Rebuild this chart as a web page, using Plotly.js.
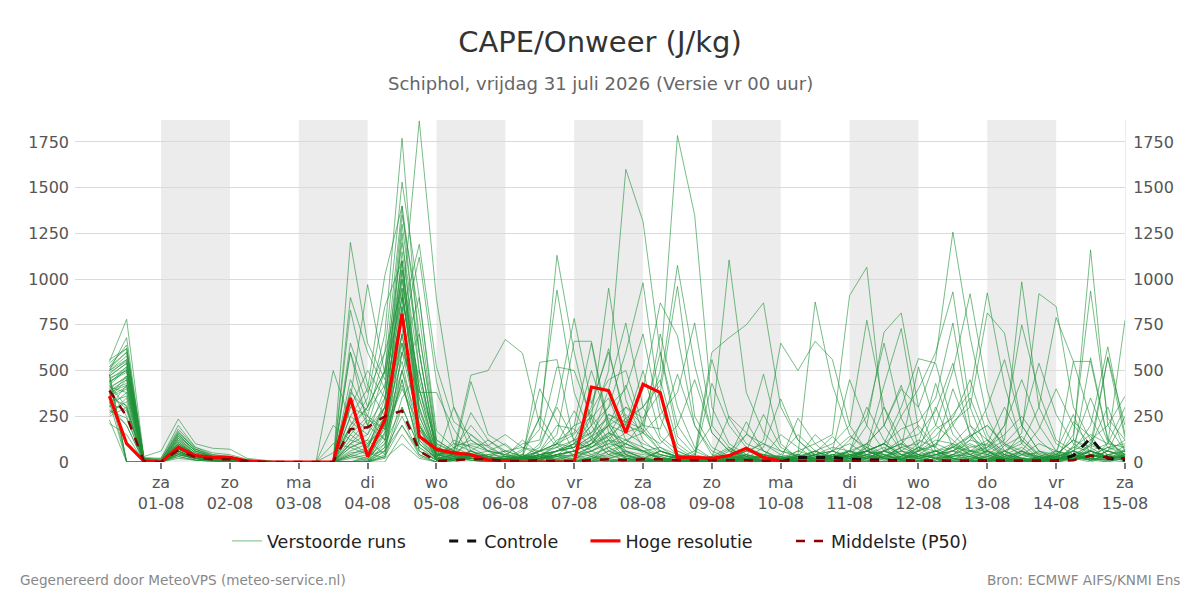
<!DOCTYPE html>
<html>
<head>
<meta charset="utf-8">
<script src="https://cdn.plot.ly/plotly-3.0.1.min.js"></script>
<style>html,body{margin:0;padding:0;background:#fff;}#chart{width:1200px;height:600px;}</style>
</head>
<body>
<div id="chart"></div>
<script>
// ---- DATA ----
const runStart = '2026-07-31 06:00';      // first forecast step
const stepHours = 6;
const nSteps = 60;

const dayTicks = ['2026-08-01','2026-08-02','2026-08-03','2026-08-04','2026-08-05','2026-08-06','2026-08-07','2026-08-08','2026-08-09','2026-08-10','2026-08-11','2026-08-12','2026-08-13','2026-08-14','2026-08-15'];
const dayNames = ['za','zo','ma','di','wo','do','vr','za','zo','ma','di','wo','do','vr','za'];
const dayLabels = ['01-08','02-08','03-08','04-08','05-08','06-08','07-08','08-08','09-08','10-08','11-08','12-08','13-08','14-08','15-08'];
const shadedDays = ['2026-08-01','2026-08-03','2026-08-05','2026-08-07','2026-08-09','2026-08-11','2026-08-13'];

const seriesNames = ['Verstoorde runs','Controle','Hoge resolutie','Middelste (P50)'];

const hiRes = [360,100,5, 0,80,35,25, 25,5,0,0, 0,0,0,350, 30,230,810,140, 70,50,40,10, 3,0,0,0, 0,410,390,160, 425,380,25,25, 20,35,75,25, 5,
  null,null,null, null,null,null,null, null,null,null,null, null,null,null,null, null,null,null,null, null];

const control = [null,null,null, null,null,null,null, null,null,null,null, null,null,null,null, null,null,null,null, null,null,null,null,
  null,null,null,null, null,null,null,null, null,null,null,null, null,null,null,null,
  0,25,25,25, 15,12,8,5, 5,5,5,5, 5,5,5,5, 5,35,130,20, 10];

const p50 = [390,250,5, 0,65,25,15, 15,5,0,0, 0,0,0,180, 190,250,280,60, 5,10,15,15, 5,5,10,5, 5,10,15,10, 15,15,10,10, 10,10,10,5, 5,5,5,5, 5,5,5,5, 5,5,5,5, 10,5,5,5, 5,10,35,25, 20];

const members = [
 [480,560,10, 0,120,40,20, 15,5,0,0, 0,0,0,150, 80,300,1250,300, 20,300,60,10, 0,0,20,40, 10,0,60,30, 10,0,40,0, 0,30,220,60, 10,0,20,0, 0,40,80,10, 0,20,60,10, 0,30,10,0, 20,550,550,120, 40],
 [420,300,5, 0,80,30,15, 10,0,0,0, 0,0,0,80, 120,40,600,380, 380,180,40,10, 20,10,5,0, 0,30,10,0, 0,20,10,0, 10,60,150,480, 100,20,0,10, 0,20,0,0, 30,60,20,0, 10,0,40,100, 60,260,40,10, 0],
 [350,450,0, 0,150,60,30, 20,5,0,0, 0,0,0,40, 20,160,400,200, 10,120,80,30, 10,0,0,10, 0,20,40,100, 60,10,0,0, 0,10,60,260, 80,30,10,0, 20,0,60,40, 0,0,20,0, 0,60,120,30, 0,220,140,30, 90],
 [520,640,20, 10,170,70,30, 25,10,5,0, 0,0,0,30, 10,250,850,120, 30,60,475,500, 670,595,200,80, 40,10,0,20, 10,40,20,0, 30,80,10,0, 20,0,40,60, 30,10,0,0, 20,40,80,150, 60,10,0,20, 40,120,1160,200, 60],
 [300,420,5, 0,90,30,20, 10,0,0,0, 0,0,0,0, 0,80,450,60, 10,40,440,150, 90,20,30,10, 0,0,120,60, 20,0,0,10, 0,20,40,120, 650,500,660,560, 200,60,20,0, 10,30,0,0, 20,10,50,30, 0,80,60,20, 30],
 [450,520,0, 0,60,20,10, 5,0,0,0, 0,0,0,250, 180,300,700,150, 40,30,270,120, 50,10,60,30, 0,100,200,40, 0,20,10,0, 0,10,20,80, 345,120,30,10, 0,60,100,20, 0,0,10,30, 0,90,140,40, 20,150,935,240, 120],
 [380,0,0, 0,40,20,10, 5,0,0,0, 0,0,0,0, 0,30,200,40, 0,20,150,60, 10,0,10,0, 0,30,80,20, 10,0,30,0, 0,0,10,30, 150,80,20,0, 10,0,30,80, 40,0,0,20, 60,0,10,0, 30,40,570,130, 20],
 [500,680,15, 20,200,80,40, 30,10,5,0, 0,0,0,300, 250,120,500,200, 60,70,200,90, 30,20,40,10, 0,10,30,60, 40,30,0,0, 20,70,30,0, 10,240,100,20, 0,30,20,0, 0,10,40,90, 50,20,0,10, 0,90,350,110, 40],
 [260,350,5, 0,60,20,10, 10,0,0,0, 0,0,0,0, 0,200,850,100, 20,10,60,120, 60,30,10,0, 0,0,20,50, 30,0,10,20, 0,0,0,10, 40,150,60,10, 0,10,30,20, 10,0,0,0, 0,40,80,10, 10,60,200,630, 150],
 [550,780,30, 60,235,100,75, 70,20,10,0, 0,0,0,200, 300,500,1000,400, 100,50,100,90, 150,80,40,20, 10,20,60,100, 50,20,0,10, 0,30,150,100, 60,40,875,420, 150,60,20,10, 0,20,0,10, 30,0,20,60, 40,120,60,575, 200],
 [400,250,0, 0,50,10,5, 0,0,0,0, 0,0,0,100, 50,20,300,80, 10,20,40,60, 100,20,0,0, 0,0,10,20, 0,10,0,0, 0,0,20,10, 0,30,150,60, 20,0,0,10, 0,40,20,0, 0,10,0,0, 60,30,100,570, 130],
 [330,0,0, 0,30,10,5, 0,0,0,0, 0,0,0,0, 0,0,150,30, 0,10,30,40, 30,120,40,10, 0,20,0,10, 0,0,20,0, 10,0,0,0, 0,20,50,140, 40,20,0,0, 10,0,30,50, 20,0,0,30, 10,20,90,300, 60],
 [460,500,10, 0,110,40,20, 15,5,0,0, 0,0,0,50, 60,350,1100,250, 30,100,90,60, 40,20,545,560, 100,40,10,0, 20,60,30,10, 0,40,80,20, 10,60,100,150, 910,1065,200,60, 20,10,40,120, 90,30,10,0, 0,30,60,20, 10],
 [410,380,5, 0,70,30,20, 10,0,0,0, 0,0,0,0, 0,100,300,80, 20,30,60,20, 10,40,400,220, 60,30,0,10, 20,0,40,30, 0,20,60,40, 30,0,10,60, 450,200,60,20, 0,10,90,40, 10,0,60,20, 50,30,10,100, 775],
 [290,200,0, 0,40,20,10, 5,0,0,0, 0,0,0,0, 0,60,250,40, 0,10,40,20, 10,30,250,100, 30,0,20,40, 10,0,0,0, 20,0,30,10, 0,10,40,60, 140,80,20,0, 10,0,40,30, 10,60,20,0, 30,60,120,200, 360],
 [510,600,20, 10,160,70,40, 30,10,5,0, 0,0,0,380, 280,420,950,180, 40,60,30,10, 20,70,180,1130, 600,200,60,20, 0,10,30,10, 0,20,60,40, 10,20,60,100, 200,775,300,60, 40,20,0,10, 60,20,0,30, 20,80,150,100, 300],
 [360,470,5, 0,90,40,25, 15,5,0,0, 0,0,0,120, 90,200,500,100, 20,40,20,10, 10,60,240,940, 380,140,40,10, 0,20,10,0, 10,0,40,20, 30,10,40,80, 60,300,120,40, 20,0,10,60, 40,10,0,20, 10,40,90,60, 250],
 [470,540,15, 0,130,50,30, 20,5,0,0, 0,0,0,0, 0,150,650,220, 30,80,120,60, 40,100,120,520, 500,240,80,30, 20,10,0,0, 0,30,60,100, 40,20,0,30, 60,200,710,815, 300,60,10,20, 30,0,40,50, 20,10,30,80, 40],
 [230,0,0, 0,20,10,5, 0,0,0,0, 0,0,0,0, 0,20,100,20, 0,10,20,0, 0,20,100,300, 120,60,20,0, 10,0,0,0, 0,10,20,10, 0,20,40,30, 120,250,650,240, 60,20,0,10, 0,20,60,10, 0,30,20,10, 50],
 [390,430,10, 0,100,40,20, 15,5,0,0, 0,0,500,220, 150,300,600,200, 50,40,20,10, 20,10,60,200, 180,80,140,40, 10,60,30,10, 0,30,20,10, 0,40,20,10, 40,60,300,120, 20,0,30,40, 10,0,0,30, 60,40,10,0, 20],
 [440,490,5, 0,80,30,15, 10,0,0,0, 0,0,200,120, 230,180,420,100, 20,10,40,30, 60,30,80,320, 785,320,600,240, 80,20,10,0, 0,20,30,10, 10,0,30,20, 10,80,420,730, 180,40,10,0, 30,60,20,0, 10,40,20,60, 30],
 [480,0,0, 0,50,20,10, 5,0,0,0, 0,0,100,80, 40,60,200,60, 10,20,30,40, 60,80,60,150, 660,660,200,60, 20,0,10,30, 10,0,20,0, 10,30,60,20, 0,100,200,420, 80,20,40,10, 0,20,60,30, 0,10,40,20, 10],
 [320,280,0, 0,60,20,10, 10,0,0,0, 0,0,50,180, 100,250,550,120, 10,20,40,30, 10,0,20,100, 280,120,40,60, 20,10,0,10, 0,10,40,20, 0,10,20,40, 20,60,100,300, 565,540,200,60, 120,20,0,10, 40,20,0,30, 20],
 [500,580,15, 0,140,60,30, 20,5,0,0, 0,0,0,1200, 650,450,1100,280, 40,60,20,10, 0,20,40,80, 200,650,160,40, 20,60,30,10, 0,20,10,0, 20,40,10,0, 10,60,30,80, 520,200,120,40, 0,20,10,30, 10,60,20,0, 40],
 [430,520,10, 0,100,30,20, 15,0,0,0, 0,0,0,900, 600,400,800,150, 20,10,40,20, 30,10,20,120, 160,500,220,80, 60,20,0,10, 20,0,30,10, 0,30,20,10, 40,20,60,100, 200,80,20,10, 40,10,0,20, 30,10,40,20, 30],
 [270,330,0, 0,50,20,10, 5,0,0,0, 0,0,0,830, 420,250,1050,180, 20,40,10,0, 0,20,10,60, 100,260,120,20, 0,30,10,0, 10,0,20,10, 30,10,0,20, 60,20,40,10, 80,60,20,0, 10,30,60,20, 0,20,10,40, 60],
 [410,460,5, 0,90,40,20, 10,5,0,0, 0,0,0,650, 380,600,950,250, 40,20,60,30, 10,30,60,100, 80,240,950,340, 120,40,20,0, 20,10,0,10, 0,20,60,30, 40,10,0,30, 100,430,150,60, 20,0,10,20, 30,10,60,30, 20],
 [350,400,5, 0,70,30,15, 10,0,0,0, 0,0,0,600, 300,500,1200,600, 60,40,30,20, 20,10,40,60, 120,300,620,200, 500,140,60,20, 0,20,40,10, 20,0,10,30, 30,60,40,10, 60,300,80,20, 10,40,20,0, 20,30,10,40, 10],
 [540,620,25, 20,180,80,50, 40,15,5,0, 0,0,0,600, 200,350,900,450, 80,40,20,10, 0,30,60,100, 200,240,350,120, 60,20,0,10, 30,0,10,40, 20,10,0,30, 50,100,200,400, 300,560,1257,685, 240,60,20,10, 40,120,80,20, 60],
 [370,290,0, 0,60,20,10, 5,0,0,0, 0,0,0,450, 250,180,700,140, 10,20,30,20, 0,10,30,60, 80,200,500,1600, 1315,600,140,40, 20,0,10,30, 10,40,20,0, 10,20,60,250, 400,600,930,300, 60,20,10,0, 30,60,20,10, 40],
 [210,150,0, 0,30,10,5, 0,0,0,0, 0,0,0,400, 200,120,450,60, 10,0,20,10, 0,10,20,40, 60,120,400,760, 300,450,100,30, 10,30,20,0, 10,0,20,10, 30,60,100,180, 220,350,760,200, 60,20,0,10, 0,20,60,30, 20],
 [500,560,20, 10,150,60,30, 20,5,0,0, 0,0,0,350, 970,480,900,350, 60,30,40,20, 10,20,60,100, 150,280,450,500, 200,80,20,10, 0,20,40,10, 0,30,10,20, 40,20,60,120, 150,280,540,140, 40,10,20,0, 30,10,40,20, 30],
 [450,0,0, 0,70,20,10, 10,0,0,0, 0,0,0,300, 500,350,650,200, 20,10,30,20, 10,0,20,40, 60,100,200,420, 160,60,30,10, 0,20,10,30, 0,20,40,10, 20,0,30,60, 120,80,400,160, 30,10,0,20, 10,30,20,60, 20],
 [420,510,10, 0,110,40,20, 15,5,0,0, 0,0,0,250, 400,1020,1400,500, 60,40,20,10, 30,10,40,60, 100,200,300,600, 980,300,80,20, 10,0,20,40, 20,10,0,30, 40,60,20,80, 100,200,500,920, 390,100,40,10, 20,10,40,80, 60],
 [300,380,5, 0,60,20,10, 5,0,0,0, 0,0,0,200, 350,850,1100,400, 40,20,10,0, 10,20,60,80, 120,160,300,400, 700,240,60,20, 10,40,20,0, 20,0,10,40, 20,60,100,40, 60,180,240,450, 150,40,20,0, 10,40,20,10, 40],
 [470,540,10, 0,130,50,25, 20,5,0,0, 0,0,0,180, 300,700,1770,600, 80,40,20,10, 20,30,10,40, 60,100,260,220, 300,120,40,10, 0,20,10,30, 0,10,20,40, 60,30,10,20, 40,100,200,350, 120,40,10,0, 20,40,60,30, 20],
 [390,450,5, 0,100,40,20, 10,5,0,0, 0,0,0,150, 250,600,1530,900, 120,60,40,20, 10,30,20,60, 100,160,240,180, 400,870,690,200, 40,20,10,0, 20,30,10,60, 100,40,20,30, 80,140,260,380, 925,420,100,20, 10,40,20,60, 30],
 [330,360,0, 0,70,30,15, 10,0,0,0, 0,0,0,100, 200,500,1400,700, 90,30,20,10, 10,20,40,60, 80,140,200,260, 160,700,300,80, 20,10,0,20, 30,10,40,20, 60,100,40,10, 60,90,220,300, 815,705,200,60, 20,10,40,30, 20],
 [560,620,20, 10,160,70,35, 25,10,5,0, 0,0,0,100, 150,400,1350,800, 100,60,30,20, 30,40,20,10, 40,80,160,100, 220,600,200,60, 20,30,10,0, 10,20,0,40, 30,60,100,40, 20,60,80,140, 200,90,40,20, 40,20,60,100, 80],
 [480,0,0, 0,90,30,15, 10,0,0,0, 0,0,0,80, 120,300,1300,600, 50,30,20,10, 10,40,20,30, 60,100,220,300, 200,500,1785,1350, 300,100,40,20, 10,30,20,10, 40,60,20,30, 80,40,60,120, 300,560,200,60, 20,40,10,30, 20],
 [350,310,0, 0,60,20,10, 5,0,0,0, 0,0,0,60, 100,200,1150,500, 40,20,10,0, 0,10,30,20, 40,60,120,240, 300,420,1075,530, 160,60,20,10, 20,0,10,30, 60,40,10,20, 30,60,40,80, 100,300,120,40, 10,30,60,20, 10],
 [400,470,10, 0,90,30,15, 10,0,0,0, 0,0,0,40, 80,250,1050,400, 30,10,20,10, 0,20,10,40, 100,80,150,300, 240,380,960,250, 80,30,10,0, 20,40,10,0, 30,20,60,100, 40,20,100,60, 60,120,985,300, 100,40,20,60, 40],
 [280,240,0, 0,40,20,10, 5,0,0,0, 0,0,0,30, 60,180,1000,350, 20,10,30,20, 10,0,20,40, 30,60,100,160, 200,180,480,200, 60,20,10,0, 20,10,0,30, 10,40,20,60, 30,60,100,40, 80,200,750,380, 120,60,20,10, 30],
 [520,600,15, 0,140,60,30, 20,5,0,0, 0,0,0,20, 40,160,920,300, 40,20,30,20, 10,30,20,60, 80,140,260,200, 160,260,380,760, 200,80,30,10, 0,20,40,20, 30,60,40,10, 20,40,60,100, 60,200,450,200, 60,30,10,40, 30],
 [360,410,5, 0,80,30,15, 10,0,0,0, 0,0,0,0, 30,100,850,1865, 890,300,120,60, 40,20,30,10, 20,40,80,120, 160,100,200,450, 160,60,20,0, 10,30,20,0, 20,40,60,20, 40,20,30,60, 80,150,250,120, 40,20,60,30, 20],
 [440,500,10, 0,100,40,20, 15,5,0,0, 0,0,0,0, 20,120,800,1190, 520,220,150,80, 30,20,10,40, 60,100,140,220, 180,60,20,40, 600,680,750,870, 300,120,40,20, 60,30,20,10, 40,60,20,30, 60,40,20,10, 30,60,40,20, 30],
 [310,200,0, 0,40,20,10, 5,0,0,0, 0,0,0,0, 10,80,700,1120, 440,100,60,30, 10,20,40,30, 40,80,120,100, 60,80,40,20, 560,240,100,60, 20,60,30,10, 20,40,60,30, 20,40,60,40, 100,40,160,920, 850,300,120,40, 60],
 [490,550,15, 0,120,50,25, 20,5,0,0, 0,0,0,0, 0,60,600,900, 170,80,40,30, 20,10,40,60, 80,120,200,160, 100,60,30,20, 430,200,80,40, 10,30,20,40, 20,60,100,40, 30,40,80,60, 40,100,200,540, 260,100,40,20, 40],
 [380,420,5, 0,80,30,15, 10,0,0,0, 0,0,0,0, 0,40,500,700, 120,60,30,20, 10,30,20,40, 60,100,160,120, 80,40,20,60, 200,1105,380,160, 60,30,60,20, 40,20,60,100, 60,120,100,200, 120,60,100,300, 790,550,240,80, 100],
 [250,300,0, 0,50,20,10, 5,0,0,0, 0,0,0,0, 0,30,350,500, 60,40,20,10, 0,20,10,30, 20,60,100,80, 60,40,20,10, 30,250,160,60, 20,10,40,60, 30,80,40,20, 60,100,60,140, 200,100,60,180, 400,200,100,60, 120]
];

// ---- BUILD ----
function fmt(ms){ return new Date(ms).toISOString().slice(0,16).replace('T',' '); }
const t0 = Date.parse(runStart.replace(' ','T') + ':00Z');
const times = [];
for (let i = 0; i < nSteps; i++) times.push(fmt(t0 + i*stepHours*3600e3));
const xStart = fmt(t0 - 12*3600e3);
const xEnd = times[times.length-1];

const pad = n => '\u00a0'.repeat(n);   // legend spacing
const traces = [];
members.forEach((vals, i) => {
  traces.push({
    x: times, y: vals, type: 'scatter', mode: 'lines',
    name: seriesNames[0] + pad(6), legendgroup: 'ens', showlegend: i === 0,
    line: {color: 'rgba(30,145,55,0.6)', width: 1},
    hoverinfo: 'skip'
  });
});
traces.push({x: times, y: control, type:'scatter', mode:'lines', name: seriesNames[1] + pad(4),
  line:{color:'#111', width:3, dash:'dash'}, connectgaps:false});
traces.push({x: times, y: hiRes, type:'scatter', mode:'lines', name: seriesNames[2] + pad(6),
  line:{color:'#ff0000', width:3.2}, connectgaps:false});
traces.push({x: times, y: p50, type:'scatter', mode:'lines', name: seriesNames[3], yaxis:'y2',
  line:{color:'#8b0000', width:2.5, dash:'dash'}});

const shapes = shadedDays.map(d => {
  const ms = Date.parse(d + 'T00:00:00Z');
  return {type:'rect', xref:'x', yref:'paper', x0: fmt(ms), x1: fmt(ms + 24*3600e3), y0:0, y1:1,
    fillcolor:'#ececec', line:{width:0}, layer:'below'};
});

const ticktext = dayNames.map((n,i)=> n + '<br>' + dayLabels[i]);
const yMax = 1870;
const FF = 'DejaVu Sans, sans-serif';
const tickFont = {family:FF, size:16, color:'#555'};

const layout = {
  width: 1200, height: 600,
  margin: {l:75, r:75, t:120, b:138},
  paper_bgcolor:'#fff', plot_bgcolor:'#fff',
  font: {family:FF, color:'#444'},
  title: {text: 'CAPE/Onweer (J/kg)', x:0.5, xanchor:'center', y: 1-42/600, yanchor:'middle', yref:'container',
    font:{family:FF, size:29, color:'#333'}},
  xaxis: {type:'date', range:[xStart, xEnd], tickvals: dayTicks, ticktext: ticktext,
    ticks:'outside', ticklen:6, tickwidth:2, tickcolor:'#777', tickfont: tickFont,
    showgrid:false, zeroline:false, showline:false},
  yaxis: {range:[0,yMax], tick0:0, dtick:250, showgrid:true, gridcolor:'#dadada', gridwidth:1,
    zeroline:false, showline:false, ticks:'', tickfont: tickFont, ticklabelstandoff:5},
  yaxis2: {range:[0,yMax], tick0:0, dtick:250, overlaying:'y', side:'right', showgrid:false,
    zeroline:false, showline:true, linecolor:'#ececec', linewidth:1, ticks:'', tickfont: tickFont, ticklabelstandoff:4},
  showlegend: true,
  legend: {orientation:'h', x:0.5, xanchor:'center', y: -(541-462)/342, yanchor:'middle',
    font:{family:FF, size:17.5, color:'#222'}, bgcolor:'rgba(0,0,0,0)'},
  shapes: shapes,
  annotations: [
    {text:'Schiphol, vrijdag 31 juli 2026 (Versie vr 00 uur)', xref:'paper', yref:'paper', x:0.5, y:(462-84)/342,
      xanchor:'center', yanchor:'middle', showarrow:false, font:{family:FF, size:18, color:'#666'}},
    {text:'Gegenereerd door MeteoVPS (meteo-service.nl)', xref:'paper', yref:'paper', x:(18-75)/1050, y:(462-580)/342,
      xanchor:'left', yanchor:'middle', showarrow:false, font:{family:FF, size:13.6, color:'#888'}},
    {text:'Bron: ECMWF AIFS/KNMI Ens', xref:'paper', yref:'paper', x:(1182-75)/1050, y:(462-580)/342,
      xanchor:'right', yanchor:'middle', showarrow:false, font:{family:FF, size:13.6, color:'#888'}}
  ]
};

Plotly.newPlot('chart', traces, layout, {staticPlot:true, displayModeBar:false});
</script>
</body>
</html>
